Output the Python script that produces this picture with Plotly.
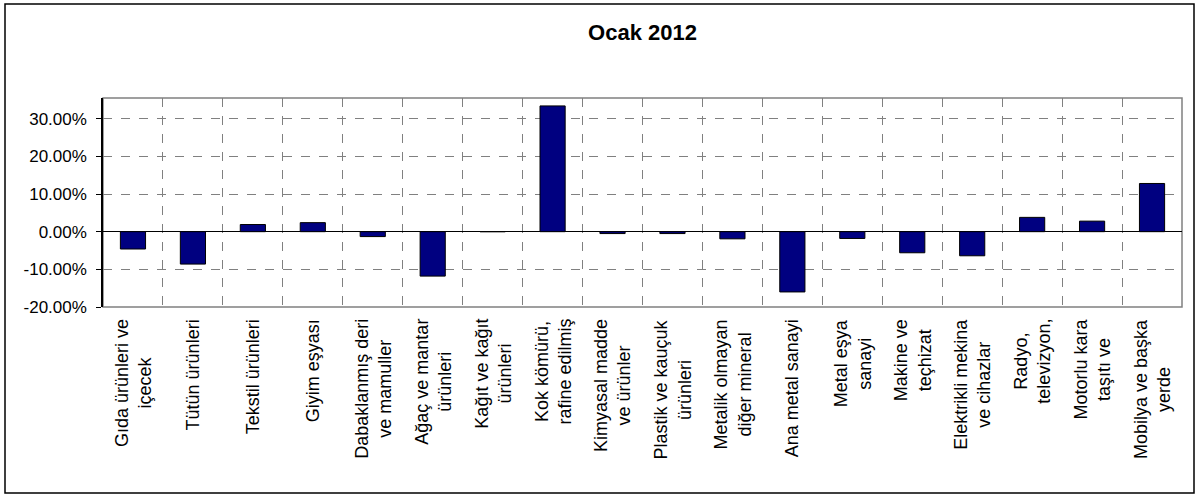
import plotly.graph_objects as go

categories = [
    "Gıda ürünleri ve<br>içecek",
    "Tütün ürünleri",
    "Tekstil ürünleri",
    "Giyim eşyası",
    "Dabaklanmış deri<br>ve mamuller",
    "Ağaç ve mantar<br>ürünleri",
    "Kağıt ve kağıt<br>ürünleri",
    "Kok kömürü,<br>rafine edilmiş",
    "Kimyasal madde<br>ve ürünler",
    "Plastik ve kauçuk<br>ürünleri",
    "Metalik olmayan<br>diğer mineral",
    "Ana metal sanayi",
    "Metal eşya<br>sanayi",
    "Makine ve<br>teçhizat",
    "Elektrikli mekina<br>ve cihazlar",
    "Radyo,<br>televizyon,",
    "Motorlu kara<br>taşıtı ve",
    "Mobilya ve başka<br>yerde",
]
values = [-4.6, -8.6, 1.9, 2.4, -1.3, -11.8, 0.0, 33.4, -0.5, -0.5,
          -1.9, -16.0, -1.8, -5.6, -6.4, 3.8, 2.8, 12.8]
y_ticks = [-20, -10, 0, 10, 20, 30]
title_text = "Ocak 2012"

W, H = 1198, 494
ML, MR, MT, MB = 103, 16, 98, 187
FONT = "Liberation Sans, Arial, sans-serif"

fig = go.Figure()
fig.add_trace(go.Bar(
    x=categories, y=values,
    marker=dict(color="#000080", line=dict(color="#000000", width=1)),
    hoverinfo="skip",
))

# category labels (rotated, lines centred like the original)
annotations = []
for c in categories:
    annotations.append(dict(
        x=c, xref="x", y=0, yref="paper", yanchor="top", xanchor="center",
        yshift=-10, text=c, textangle=-90, showarrow=False, align="center",
        font=dict(family=FONT, size=18, color="#000000"),
    ))

pw = W - ML - MR
ph = H - MT - MB
shapes = [
    # plot area border
    dict(type="rect", xref="paper", yref="paper", x0=0, x1=1, y0=0, y1=1,
         line=dict(color="#808080", width=1.5), layer="below"),
    # outer chart border
    dict(type="rect", xref="paper", yref="paper",
         x0=(5 - ML) / pw, x1=(1194 - ML) / pw,
         y0=-(H - 1 - MT - ph) / ph, y1=1 + (MT - 4) / ph,
         line=dict(color="#000000", width=1.5), layer="below"),
]

fig.update_layout(
    width=W, height=H,
    margin=dict(l=ML, r=MR, t=MT, b=MB),
    paper_bgcolor="#ffffff", plot_bgcolor="#ffffff",
    showlegend=False,
    bargap=0.58,
    title=dict(text="<b>" + title_text + "</b>", x=0.5, xref="paper",
               xanchor="center", y=1 - 32 / H, yref="container", yanchor="middle",
               font=dict(family=FONT, size=22, color="#000000")),
    font=dict(family=FONT, size=17, color="#000000"),
    annotations=annotations,
    shapes=shapes,
    xaxis=dict(type="category", tickson="boundaries", showticklabels=False,
               showgrid=True, gridcolor="#808080", griddash="dash", gridwidth=1,
               ticks="", showline=False, zeroline=False, fixedrange=True),
    yaxis=dict(range=[-20, 35.5], tickvals=y_ticks,
               ticktext=[f"{v:.2f}%" for v in y_ticks],
               showgrid=True, gridcolor="#808080", griddash="dash", gridwidth=1,
               zeroline=True, zerolinecolor="#000000", zerolinewidth=1.2,
               showline=True, linecolor="#000000", linewidth=1.5,
               ticks="outside", ticklen=5, tickcolor="#000000",
               ticklabelstandoff=6,
               tickfont=dict(family=FONT, size=17, color="#000000"),
               fixedrange=True),
)

fig.write_html("out.html", config={"displayModeBar": False},
               post_script="document.body.style.margin='0';")
